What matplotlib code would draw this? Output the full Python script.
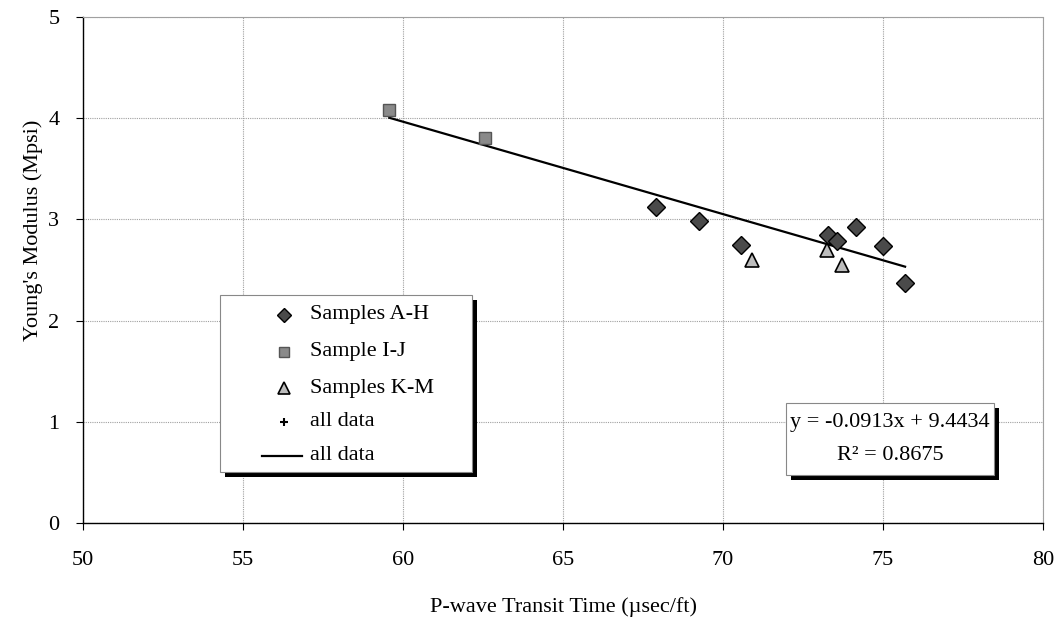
import matplotlib
matplotlib.use('Agg')
import matplotlib.pyplot as plt
from matplotlib.patches import Rectangle
import numpy as np

plt.rcParams['font.family'] = ['Liberation Serif', 'DejaVu Serif']

# Samples A-H
ah_x = [67.9, 69.25, 70.56, 73.29, 73.55, 74.16, 75.0, 75.69]
ah_y = [3.12, 2.98, 2.75, 2.85, 2.79, 2.92, 2.74, 2.37]
# Sample I-J
ij_x = [59.57, 62.57]
ij_y = [4.08, 3.80]
# Samples K-M
km_x = [70.9, 73.24, 73.73]
km_y = [2.60, 2.70, 2.55]

slope = -0.0913
intercept = 9.4434
r2 = 0.8675

fig = plt.figure(figsize=(10.61, 6.25), dpi=100)
ax = fig.add_axes([83 / 1061, 1 - 523 / 625, 960 / 1061, 506 / 625])

# trend line over the range of all data
all_x = ah_x + ij_x + km_x
tx = np.array([min(all_x), max(all_x)])
ax.plot(tx, slope * tx + intercept, color='black', lw=1.6, zorder=3)

ax.plot(ah_x, ah_y, 'D', ms=9, mfc='#4a4a4a', mec='black', mew=1.0, zorder=4)
ax.plot(ij_x, ij_y, 's', ms=8.5, mfc='#8a8a8a', mec='#555555', mew=1.0, zorder=4)
ax.plot(km_x, km_y, '^', ms=10, mfc='#bdbdbd', mec='black', mew=1.2, zorder=4)

ax.set_xlim(50, 80)
ax.set_ylim(0, 5)
ax.set_xticks(range(50, 81, 5))
ax.set_yticks(range(0, 6))
ax.grid(True, color='#a0a0a0', linestyle=(0, (1, 1)), lw=0.8)
ax.set_axisbelow(True)
for s in ['top', 'right']:
    ax.spines[s].set_color('#a0a0a0')
    ax.spines[s].set_linestyle((0, (1, 1)))
    ax.spines[s].set_linewidth(0.8)
for s in ['left', 'bottom']:
    ax.spines[s].set_color('black')
    ax.spines[s].set_linewidth(1.0)
ax.tick_params(axis='both', direction='out', length=5, width=0.8, labelsize=16, colors='black')
ax.tick_params(axis='y', pad=12)
ax.tick_params(axis='x', pad=15)

ax.set_xlabel('P-wave Transit Time (\u00b5sec/ft)', fontsize=16, labelpad=20)
ax.set_ylabel("Young's Modulus (Mpsi)", fontsize=16)
ax.yaxis.set_label_coords(-0.042, 0.579)

# legend box (drawn by hand to match the original layout)
def px_to_ax(px, py):
    return (px - 83) / 960, (523 - py) / 506

lx0, ly1 = px_to_ax(220, 295)
lx1, ly0 = px_to_ax(472, 472)
sh = 5 / 960
shy = 5 / 506
ax.add_patch(Rectangle((lx0 + sh, ly0 - shy), lx1 - lx0, ly1 - ly0, transform=ax.transAxes,
                       facecolor='black', edgecolor='none', zorder=5))
ax.add_patch(Rectangle((lx0, ly0), lx1 - lx0, ly1 - ly0, transform=ax.transAxes,
                       facecolor='white', edgecolor='#888888', lw=0.8, zorder=6))

legend_labels = ['Samples A-H', 'Sample I-J', 'Samples K-M', 'all data', 'all data']
row_y = [315, 351.7, 388.3, 421.7, 456]
mx, _ = px_to_ax(284, 0)
tx0, _ = px_to_ax(310, 0)
styles = [
    dict(marker='D', ms=7, mfc='#4a4a4a', mec='black', mew=1.0),
    dict(marker='s', ms=7, mfc='#8a8a8a', mec='#555555', mew=1.0),
    dict(marker='^', ms=8, mfc='#bdbdbd', mec='black', mew=1.2),
    dict(marker='+', ms=6, mec='black', mew=1.5),
]
for i, lab in enumerate(legend_labels):
    _, yy = px_to_ax(0, row_y[i])
    if i < 4:
        ax.plot([mx], [yy], linestyle='none', transform=ax.transAxes, zorder=7, clip_on=False, **styles[i])
    else:
        a, _ = px_to_ax(262, 0)
        b, _ = px_to_ax(302, 0)
        ax.plot([a, b], [yy, yy], color='black', lw=1.6, transform=ax.transAxes, zorder=7)
    ax.text(tx0, yy, lab, transform=ax.transAxes, fontsize=16, va='center', ha='left', zorder=7)

# equation box
ex0, ey1 = px_to_ax(786, 403)
ex1, ey0 = px_to_ax(994, 475)
ax.add_patch(Rectangle((ex0 + sh, ey0 - shy), ex1 - ex0, ey1 - ey0, transform=ax.transAxes,
                       facecolor='black', edgecolor='none', zorder=5))
ax.add_patch(Rectangle((ex0, ey0), ex1 - ex0, ey1 - ey0, transform=ax.transAxes,
                       facecolor='white', edgecolor='#888888', lw=0.8, zorder=6))
cx = (ex0 + ex1) / 2
ax.text(cx, px_to_ax(0, 423)[1], 'y = %.4fx + %.4f' % (slope, intercept), transform=ax.transAxes,
        fontsize=16, ha='center', va='center', zorder=7)
ax.text(cx, px_to_ax(0, 455)[1], 'R\u00b2 = %.4f' % r2, transform=ax.transAxes,
        fontsize=16, ha='center', va='center', zorder=7)

fig.savefig('out.png', dpi=100)
